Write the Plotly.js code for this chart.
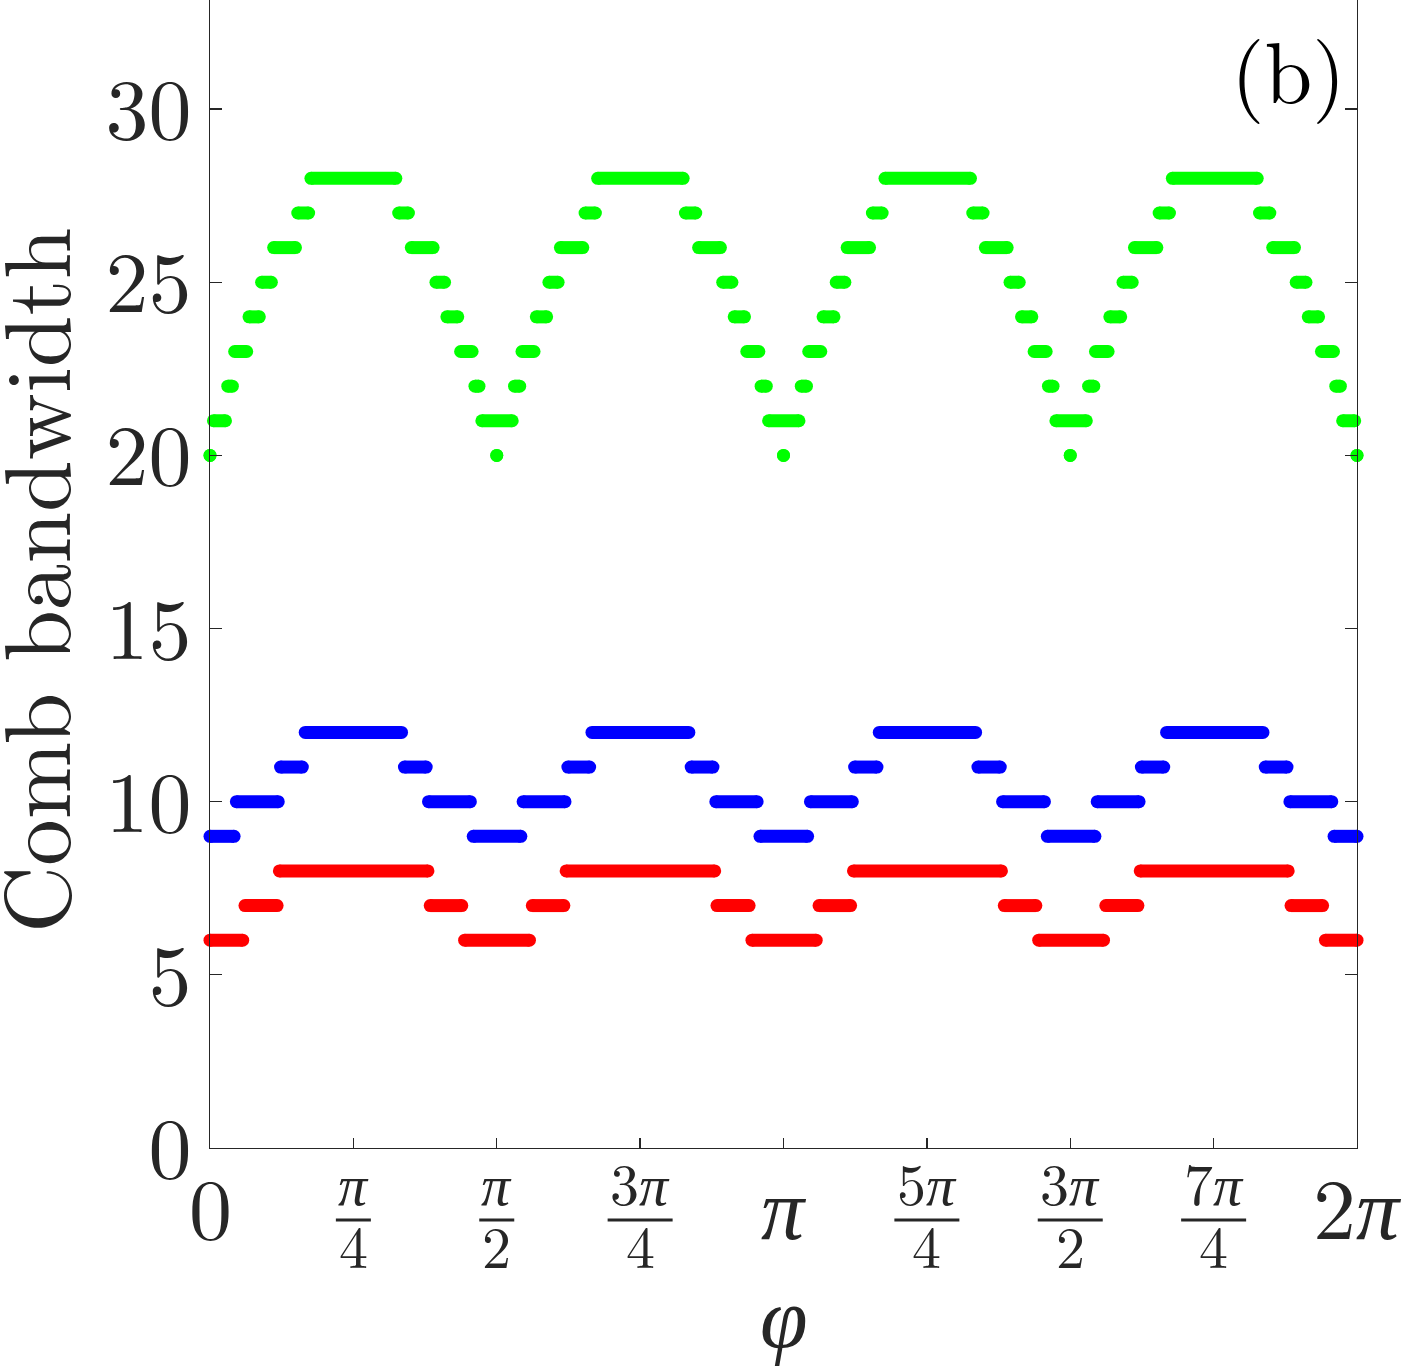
<!DOCTYPE html>
<html><head><meta charset="utf-8">
<script src="https://cdn.plot.ly/plotly-3.0.1.min.js"></script>
<style>body{margin:0;background:#fff}</style>
</head><body><div id="chart" style="width:1403px;height:1372px"></div>
<script>
// phi values are in units of pi
const greenStart=[0,0.006,0.031,0.043,0.068,0.090,0.111,0.153,0.176,0.329,0.351,0.394,0.413,0.437,0.462,0.474,0.5,
 0.531,0.544,0.569,0.591,0.611,0.654,0.676,0.829,0.852,0.894,0.914,0.936,0.961,0.974,1.0,
 1.031,1.044,1.069,1.092,1.111,1.155,1.177,1.330,1.352,1.395,1.415,1.437,1.462,1.475,1.5,
 1.532,1.544,1.569,1.592,1.612,1.655,1.678,1.830,1.853,1.894,1.915,1.938,1.963,1.975,2.0];
const greenEnd=[0,0.027,0.039,0.064,0.086,0.107,0.149,0.172,0.324,0.346,0.389,0.409,0.432,0.457,0.469,0.527,0.5,
 0.540,0.565,0.587,0.607,0.650,0.672,0.825,0.847,0.890,0.910,0.932,0.957,0.970,1.027,1.0,
 1.040,1.065,1.088,1.107,1.150,1.172,1.326,1.348,1.390,1.411,1.433,1.458,1.470,1.528,1.5,
 1.541,1.566,1.588,1.608,1.651,1.673,1.826,1.848,1.891,1.911,1.933,1.959,1.971,1.996,2.0];
const greenLevel=[20,21,22,23,24,25,26,27,28,27,26,25,24,23,22,21,20,
 22,23,24,25,26,27,28,27,26,25,24,23,22,21,20,
 22,23,24,25,26,27,28,27,26,25,24,23,22,21,20,
 22,23,24,25,26,27,28,27,26,25,24,23,22,21,20];

const blueStart=[0,0.046,0.123,0.166,0.339,0.381,0.459,0.546,0.624,0.666,0.839,0.882,0.959,1.047,1.124,1.167,1.339,1.382,1.460,1.547,1.624,1.668,1.840,1.883,1.960];
const blueEnd=[0.042,0.119,0.161,0.334,0.377,0.454,0.542,0.619,0.662,0.835,0.877,0.954,1.042,1.120,1.163,1.335,1.378,1.455,1.543,1.620,1.663,1.836,1.878,1.956,2.0];
const blueLevel=[9,10,11,12,11,10,9,10,11,12,11,10,9,10,11,12,11,10,9,10,11,12,11,10,9];

const redStart=[0,0.061,0.121,0.384,0.444,0.562,0.621,0.884,0.945,1.062,1.122,1.385,1.445,1.562,1.622,1.885,1.945];
const redEnd=[0.057,0.117,0.380,0.439,0.557,0.617,0.880,0.940,1.057,1.117,1.380,1.440,1.558,1.618,1.880,1.940,2.0];
const redLevel=[6,7,8,7,6,7,8,7,6,7,8,7,6,7,8,7,6];

const xTickVals=[0,0.25,0.5,0.75,1,1.25,1.5,1.75,2];
const xTickNum=['0','π','π','3π','π','5π','3π','7π','2π'];
const xTickDen=['','4','2','4','','4','2','4',''];
const yTickVals=[0,5,10,15,20,25,30];
const yTitle='Comb bandwidth';
const xTitle='φ';
const panelLabel='(b)';

const FONT='Latin Modern Roman';
const INK='#262626';

function segTrace(starts, ends, levels, color){
  const x=[], y=[];
  for(let i=0;i<starts.length;i++){
    x.push(starts[i], ends[i], null);
    y.push(levels[i], levels[i], null);
  }
  return {x:x, y:y, type:'scatter', mode:'lines+markers', connectgaps:false,
    line:{color:color, width:13}, marker:{color:color, size:13, line:{width:0}},
    cliponaxis:false, hoverinfo:'skip'};
}
const traces=[
  segTrace(redStart, redEnd, redLevel, '#ff0000'),
  segTrace(blueStart, blueEnd, blueLevel, '#0000ff'),
  segTrace(greenStart, greenEnd, greenLevel, '#00ff00')
];

function piItal(s){ return s.replace(/π/g,'<i>π</i>'); }

const annotations=[], shapes=[];
xTickVals.forEach((v,i)=>{
  if(xTickDen[i]===''){
    annotations.push({xref:'x', yref:'paper', x:v, y:0, xanchor:'center', yanchor:'middle',
      yshift:-55, showarrow:false, text:piItal(xTickNum[i]), font:{family:FONT, size:86, color:INK}});
  } else {
    annotations.push({xref:'x', yref:'paper', x:v, y:0, xanchor:'center', yanchor:'middle',
      yshift:-33, showarrow:false, text:piItal(xTickNum[i]), font:{family:FONT, size:58, color:INK}});
    annotations.push({xref:'x', yref:'paper', x:v, y:0, xanchor:'center', yanchor:'middle',
      yshift:-96, showarrow:false, text:xTickDen[i], font:{family:FONT, size:58, color:INK}});
    const w = xTickNum[i].length>1 ? 65 : 35;
    shapes.push({type:'line', xref:'paper', yref:'paper', xsizemode:'pixel', ysizemode:'pixel',
      xanchor:v/2, yanchor:0, x0:-w/2, x1:w/2, y0:-72, y1:-72, line:{color:INK, width:3}});
  }
});
annotations.push({xref:'paper', yref:'paper', x:0.5, y:0, xanchor:'center', yanchor:'middle',
  yshift:-163, showarrow:false, text:'<i>'+xTitle+'</i>', font:{family:FONT, size:86, color:INK}});
annotations.push({xref:'paper', yref:'paper', x:0, y:0.5, xanchor:'center', yanchor:'middle',
  xshift:-179, yshift:-7, textangle:-90, showarrow:false, text:yTitle, font:{family:FONT, size:93, color:INK}});
annotations.push({xref:'paper', yref:'paper', x:1, y:1, xanchor:'right', yanchor:'middle',
  xshift:-9, yshift:-67, showarrow:false, text:panelLabel, font:{family:FONT, size:86, color:'#000'}});

const layout={
  width:1403, height:1372,
  margin:{l:210, r:46, t:0, b:224, pad:0},
  paper_bgcolor:'#fff', plot_bgcolor:'#fff', showlegend:false,
  font:{family:FONT, color:INK},
  xaxis:{range:[0,2], showgrid:false, zeroline:false, showline:true, mirror:false,
    linecolor:INK, linewidth:1.3, ticks:'inside', ticklen:10, tickwidth:1.3, tickcolor:INK,
    tickmode:'array', tickvals:xTickVals, showticklabels:false},
  yaxis:{range:[0,33.15], showgrid:false, zeroline:false, showline:true, mirror:'ticks',
    linecolor:INK, linewidth:1.3, ticks:'inside', ticklen:12, tickwidth:1.3, tickcolor:INK,
    tickmode:'array', tickvals:yTickVals, ticktext:yTickVals.map(String),
    tickfont:{family:FONT, size:86, color:INK}, ticklabelstandoff:0},
  annotations:annotations, shapes:shapes
};
Plotly.newPlot('chart', traces, layout, {displayModeBar:false, staticPlot:true});
</script></body></html>
